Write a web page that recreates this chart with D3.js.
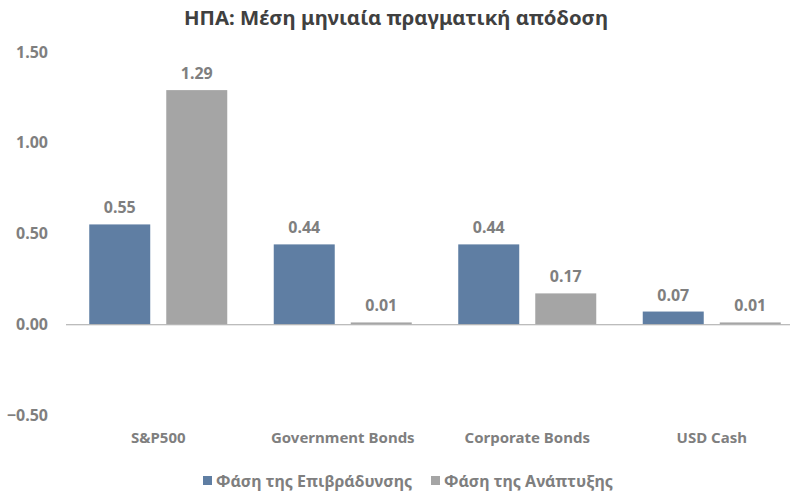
<!DOCTYPE html>
<html>
<head>
<meta charset="utf-8">
<script src="https://cdn.jsdelivr.net/npm/d3@7"></script>
<style>
  body { margin: 0; background: #fff; }
  svg { display: block; font-family: "Noto Sans", "Open Sans", sans-serif; }
</style>
</head>
<body>
<div id="chart"></div>
<script>
// chart data
var categories = ['S&P500', 'Government Bonds', 'Corporate Bonds', 'USD Cash'];
var seriesNames = ['Φάση της Επιβράδυνσης', 'Φάση της Ανάπτυξης'];
var slowdown = [0.55, 0.44, 0.44, 0.07];
var growth = [1.29, 0.01, 0.17, 0.01];
var yTicks = [-0.5, 0, 0.5, 1.0, 1.5];

var colors = ['#5f7ea3', '#a5a5a5'];
var textGray = '#7f7f7f';

var width = 792, height = 495;

var svg = d3.select('#chart').append('svg')
    .attr('width', width)
    .attr('height', height);

var rows = categories.map(function(c, i) {
    return { cat: c, values: [slowdown[i], growth[i]] };
});

var x0 = d3.scaleBand()
    .domain(categories)
    .range([66, 804])
    .paddingInner(0.252)
    .paddingOuter(0.126);

var x1 = d3.scaleBand()
    .domain([0, 1])
    .range([0, x0.bandwidth()])
    .paddingInner(0.208);

var y = d3.scaleLinear()
    .domain([-0.5, 1.5])
    .range([415, 52]);

// title
svg.append('text')
    .attr('x', 396)
    .attr('y', 25)
    .attr('text-anchor', 'middle')
    .attr('font-size', 19)
    .attr('font-weight', 'bold')
    .attr('fill', '#404040')
    .attr('textLength', 424)
    .attr('lengthAdjust', 'spacingAndGlyphs')
    .text('ΗΠΑ: Μέση μηνιαία πραγματική απόδοση');

// y axis labels only
var yAxis = d3.axisLeft(y)
    .tickValues(yTicks)
    .tickFormat(d3.format('.2f'))
    .tickSize(0)
    .tickPadding(0);

var yg = svg.append('g')
    .attr('transform', 'translate(48,0)')
    .call(yAxis)
    .attr('font-family', null)
    .attr('font-size', null);
yg.select('.domain').remove();
yg.selectAll('text')
    .attr('font-size', 16)
    .attr('font-weight', 'bold')
    .attr('fill', textGray);

// bars
var groups = svg.selectAll('g.grp')
    .data(rows).enter()
    .append('g')
    .attr('class', 'grp')
    .attr('transform', function(d) { return 'translate(' + x0(d.cat) + ',0)'; });

groups.selectAll('rect')
    .data(function(d) { return d.values.map(function(v, i) { return { v: v, i: i }; }); })
    .enter().append('rect')
    .attr('x', function(d) { return x1(d.i); })
    .attr('width', x1.bandwidth())
    .attr('y', function(d) { return Math.min(y(d.v), y(0)); })
    .attr('height', function(d) { return Math.abs(y(d.v) - y(0)); })
    .attr('fill', function(d) { return colors[d.i]; });

groups.selectAll('text.val')
    .data(function(d) { return d.values.map(function(v, i) { return { v: v, i: i }; }); })
    .enter().append('text')
    .attr('class', 'val')
    .attr('x', function(d) { return x1(d.i) + x1.bandwidth() / 2; })
    .attr('y', function(d) { return y(d.v) - 11; })
    .attr('text-anchor', 'middle')
    .attr('font-size', 16)
    .attr('font-weight', 'bold')
    .attr('fill', textGray)
    .text(function(d) { return d3.format('.2f')(d.v); });

// zero line
svg.append('line')
    .attr('x1', 66)
    .attr('x2', 790)
    .attr('y1', y(0) + 0.5)
    .attr('y2', y(0) + 0.5)
    .attr('stroke', '#a6a6a6')
    .attr('stroke-width', 1.2);

// category labels
var xAxis = d3.axisBottom(x0).tickSize(0).tickPadding(0);
var xg = svg.append('g')
    .attr('transform', 'translate(0,432)')
    .call(xAxis)
    .attr('font-family', null)
    .attr('font-size', null);
xg.select('.domain').remove();
xg.selectAll('text')
    .attr('font-size', 15)
    .attr('font-weight', 'bold')
    .attr('fill', textGray);

// legend
var legendX = [203, 431];
var legend = svg.selectAll('g.leg')
    .data(seriesNames).enter()
    .append('g')
    .attr('class', 'leg')
    .attr('transform', function(d, i) { return 'translate(' + legendX[i] + ',476)'; });

legend.append('rect')
    .attr('width', 9)
    .attr('height', 9)
    .attr('fill', function(d, i) { return colors[i]; });

legend.append('text')
    .attr('x', 13)
    .attr('y', 10.5)
    .attr('font-size', 16)
    .attr('font-weight', 'bold')
    .attr('fill', textGray)
    .text(function(d) { return d; });
</script>
</body>
</html>
